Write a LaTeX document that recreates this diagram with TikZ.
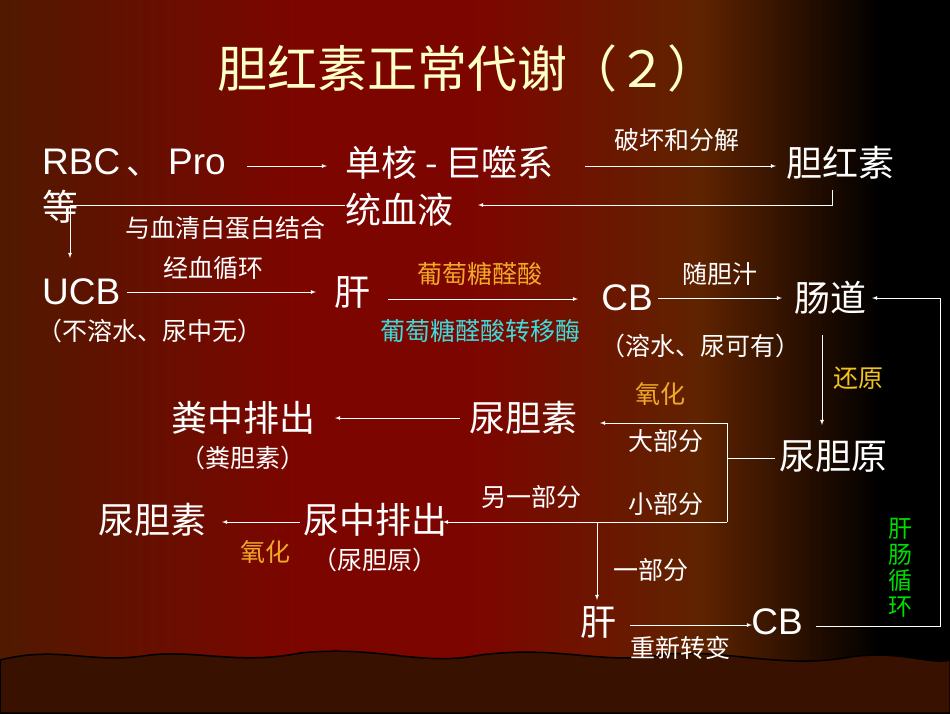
\documentclass[tikz,border=0pt]{standalone}
\usepackage{fontspec}
\setmainfont{Noto Sans CJK SC}
\setsansfont{Liberation Sans}
\begin{document}
\begin{tikzpicture}[x=1pt,y=-1pt,
 big/.style={text=white,font=\fontsize{36}{36}\selectfont,inner sep=0pt},
 lat/.style={text=white,font=\sffamily\fontsize{37}{37}\selectfont,inner sep=0pt},
 sm/.style={text=white,font=\fontsize{25}{25}\selectfont,inner sep=0pt},
 ln/.style={draw=white,line width=0.8pt},
 ar/.style={ln,-latex}]
\definecolor{c1}{RGB}{80,25,0}\definecolor{c2}{RGB}{125,5,0}\definecolor{c3}{RGB}{95,35,0}\definecolor{c4}{RGB}{0,0,0}
\definecolor{tt}{RGB}{255,255,200}\definecolor{og}{RGB}{240,170,40}\definecolor{cy}{RGB}{60,220,220}\definecolor{gr}{RGB}{0,220,0}
\useasboundingbox (0,0) rectangle (950,713);
\shade[left color=c1,right color=c2] (0,0) rectangle (300,713);
\shade[left color=c2,right color=c2] (300,0) rectangle (470,713);
\shade[left color=c2,right color=c3] (470,0) rectangle (700,713);
\shade[left color=c3,right color=c4] (700,0) rectangle (880,713);
\fill[black] (879,0) rectangle (950,713);
\fill[fill=c1!70!black,draw=black,line width=1.5pt] (0,660) .. controls (60,645) and (90,665) .. (150,655) .. controls (200,650) and (240,665) .. (300,653) .. controls (380,645) and (420,667) .. (480,655) .. controls (560,645) and (600,665) .. (660,655) .. controls (720,647) and (780,670) .. (850,657) .. controls (900,650) and (930,665) .. (950,660) -- (950,713) -- (0,713) -- cycle;
\node[text=tt,font=\fontsize{50}{50}\selectfont] (title) at (467,68) {胆红素正常代谢（２）};
\node[lat,anchor=west] (rbc) at (42,163) {RBC\,\rmfamily\fontsize{34}{34}\selectfont 、 \sffamily\fontsize{37}{37}\selectfont Pro};
\node[big,anchor=west] (deng) at (42,207) {等};
\node[big,anchor=west] (dh) at (345,163) {单核 - 巨噬系};
\node[big,anchor=west] (xy) at (345,210) {统血液};
\node[big] (dhs) at (840,163) {胆红素};
\node[sm] (l1) at (677,140) {破坏和分解};
\node[sm] (l2) at (225,228) {与血清白蛋白结合};
\node[lat,anchor=west] (ucb) at (42,292) {UCB};
\node[sm] (l3) at (213,268) {经血循环};
\node[big] (gan1) at (352,292) {肝};
\node[sm,text=og] (l4) at (480,274) {葡萄糖醛酸};
\node[sm,text=cy] (l5) at (480,331) {葡萄糖醛酸转移酶};
\node[lat] (cb1) at (627,298) {CB};
\node[sm] (l6) at (720,274) {随胆汁};
\node[big] (cd) at (830,298) {肠道};
\node[sm] (l7) at (150,331) {（不溶水、尿中无）};
\node[sm] (l8) at (700,346) {（溶水、尿可有）};
\node[sm,text=og!70!yellow] (l9) at (858,378) {还原};
\node[big] (ndy) at (833,457) {尿胆原};
\node[big] (nds) at (523,418) {尿胆素};
\node[big] (fz) at (243,418) {粪中排出};
\node[sm] (l10) at (243,458) {（粪胆素）};
\node[sm,text=og] (l11) at (660,394) {氧化};
\node[sm] (l12) at (666,441) {大部分};
\node[sm] (l13) at (666,504) {小部分};
\node[sm] (l14) at (531,497) {另一部分};
\node[big] (nz) at (375,520) {尿中排出};
\node[sm] (l15) at (375,560) {（尿胆原）};
\node[big] (nds2) at (152,520) {尿胆素};
\node[sm,text=og] (l16) at (265,552) {氧化};
\node[sm] (l17) at (651,570) {一部分};
\node[big] (gan2) at (598,622) {肝};
\node[sm] (l18) at (680,648) {重新转变};
\node[lat] (cb2) at (777,622) {CB};
\node[sm,text=gr,align=center,font=\fontsize{24}{26}\selectfont] (l19) at (900,568) {肝\\肠\\循\\环};
\coordinate (p1) at (832,190); \coordinate (p2) at (832,205);
\coordinate (q1) at (345,205); \coordinate (q2) at (70,205);
\coordinate (r1) at (727,423); \coordinate (r2) at (727,522); \coordinate (r3) at (727,458);
\coordinate (s1) at (597,522); \coordinate (t1) at (940,626); \coordinate (t2) at (940,298);
\draw[ar] (247,166) -- (327,166);
\draw[ar] (585,166) -- (776,166);
\draw[ar] (p1) -- (p2) -- (478,205);
\draw[ln] (q1) -- (q2);
\draw[ar] (q2) -- (70,258);
\draw[ar] (127,292) -- (316,292);
\draw[ar] (388,299) -- (578,299);
\draw[ar] (658,298) -- (782,298);
\draw[ar] (822,335) -- (822,425);
\draw[ln] (775,458) -- (r3);
\draw[ar] (r2) -- (r1) -- (600,423);
\draw[ar] (460,418) -- (335,418);
\draw[ar] (r2) -- (443,522);
\draw[ar] (300,522) -- (222,522);
\draw[ar] (s1) -- (597,600);
\draw[ar] (630,625) -- (752,625);
\draw[ar] (816,626) -- (t1) -- (t2) -- (872,298);
\end{tikzpicture}
\end{document}
